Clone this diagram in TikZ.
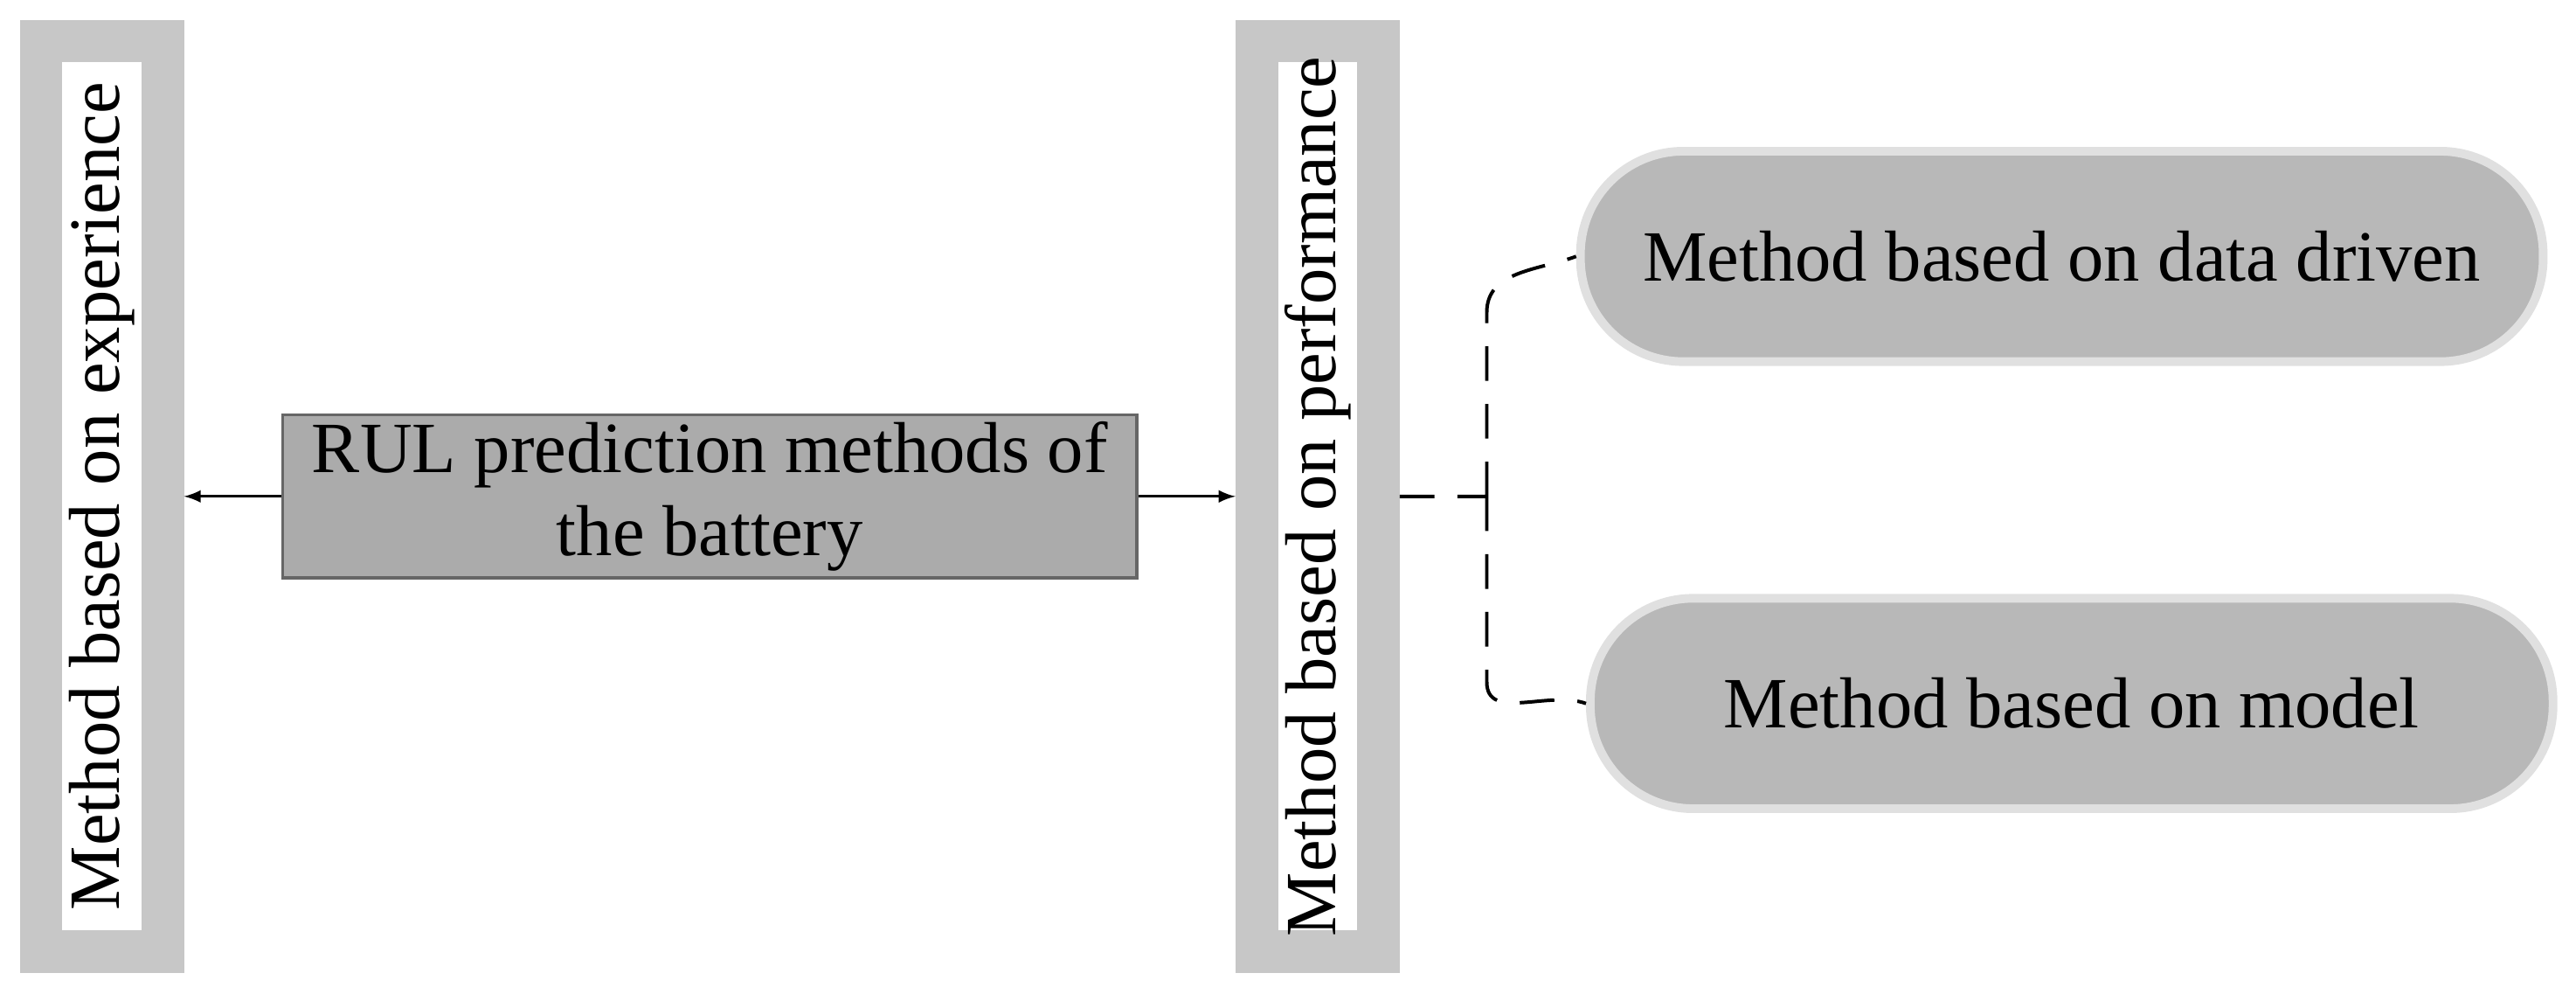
\documentclass[tikz,border=0pt]{standalone}
\usepackage{fontspec}
\setmainfont{Liberation Serif}
\begin{document}
\begin{tikzpicture}[x=0.02cm,y=-0.02cm,
 bar/.style={draw=black!22,line width=0.52cm,fill=white,minimum width=74*0.02cm,minimum height=554*0.02cm,inner sep=0},
 vtext/.style={rotate=90,font=\fontsize{25}{29}\selectfont},
 pill/.style={rounded corners=1.25cm,fill=black!28,draw=black!12,line width=3pt,minimum width=586*0.02cm,minimum height=128*0.02cm,font=\fontsize{25}{29}\selectfont},
 arr/.style={-latex,line width=1pt}]
\useasboundingbox (0,0) rectangle (1568,609);
\node[bar] (L) at (62,302) {};
\node[vtext] at (62,302) {Method based on experience};
\node[bar] (M) at (802,302) {};
\node[vtext] at (802,302) {Method based on performance};
\node[draw=black!60,fill=black!33,line width=1pt,minimum width=520*0.02cm,minimum height=99*0.02cm,align=center,font=\fontsize{25}{29}\selectfont,inner sep=0] (R) at (432,302) {\raisebox{0pt}{RUL prediction methods of}\\ the battery};
\node[pill] (A) at (1255,156) {Method based on data driven};
\node[pill] (B) at (1261,428) {Method based on model};
\draw[arr] (R.west) -- (112,302) coordinate (l1);
\draw[arr] (R.east) -- (752,302) coordinate (m1);
\coordinate (s) at (852,302);
\coordinate (j) at (905,302);
\draw[line width=1.2pt,dash pattern=on 12pt off 8pt] (s) -- (j)
  (j) -- (905,190) to[out=90,in=-160] (A.west)
  (j) -- (905,415) to[out=-90,in=160] (B.west);
\end{tikzpicture}
\end{document}
